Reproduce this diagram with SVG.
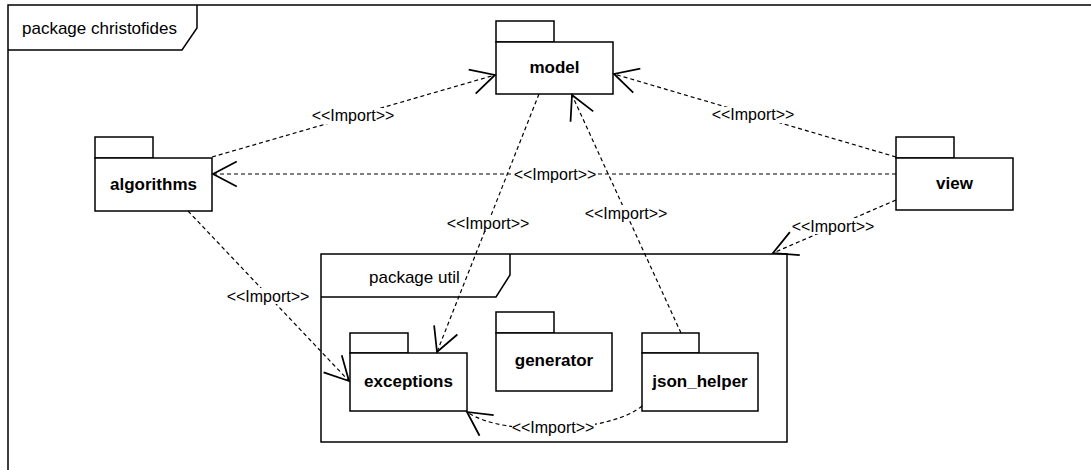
<svg xmlns="http://www.w3.org/2000/svg" width="1091" height="470" viewBox="0 0 1091 470">
  <style>
    .frame { fill: none; stroke: #000; stroke-width: 1.5; }
    .pkg { fill: #fff; stroke: #000; stroke-width: 1.5; }
    .title { font-family: "Liberation Sans", Arial, sans-serif; font-size: 17px; fill: #000; }
    .name { font-family: "Liberation Sans", Arial, sans-serif; font-size: 17px; font-weight: bold; fill: #000; text-anchor: middle; }
    .dep { fill: none; stroke: #000; stroke-width: 1.2; stroke-dasharray: 4 3; marker-end: url(#open); }
    .lbl { font-family: "Liberation Sans", Arial, sans-serif; font-size: 16px; fill: #000; text-anchor: middle; }
    .lblbg { fill: #fff; }
  </style>
  <defs>
    <marker id="open" markerUnits="userSpaceOnUse" markerWidth="30" markerHeight="30" refX="0" refY="0" viewBox="-22 -12 24 24" orient="auto" overflow="visible">
      <path d="M-19,-10 L0,0 L-19,10" fill="none" stroke="#000" stroke-width="1.4"/>
    </marker>
  </defs>

  <rect width="1091" height="470" fill="#fff"/>

  <!-- outer package frame -->
  <g id="christofides">
    <rect class="frame" x="8" y="5" width="1100" height="500"/>
    <path class="frame" d="M8,50 L182,50 L197,28 L197,5"/>
    <text class="title" x="22" y="34">package christofides</text>
  </g>

  <!-- util package frame -->
  <g id="util">
    <rect class="pkg" x="321" y="254" width="466" height="188"/>
    <path class="frame" d="M321,297 L496,297 L510,275 L510,254"/>
    <text class="title" x="369" y="283">package util</text>
  </g>

  <g id="model">
    <rect class="pkg" x="496" y="21" width="58" height="21"/>
    <rect class="pkg" x="496" y="42" width="117" height="52"/>
    <text class="name" x="554.5" y="73">model</text>
  </g>

  <g id="algorithms">
    <rect class="pkg" x="95" y="137" width="58" height="21"/>
    <rect class="pkg" x="95" y="158" width="117" height="53"/>
    <text class="name" x="153.5" y="190">algorithms</text>
  </g>

  <g id="view">
    <rect class="pkg" x="896" y="137" width="58" height="21"/>
    <rect class="pkg" x="896" y="158" width="117" height="52"/>
    <text class="name" x="954.5" y="189">view</text>
  </g>

  <g id="exceptions">
    <rect class="pkg" x="350" y="333" width="58" height="20"/>
    <rect class="pkg" x="350" y="353" width="117" height="58"/>
    <text class="name" x="408.5" y="387">exceptions</text>
  </g>

  <g id="generator">
    <rect class="pkg" x="496" y="312" width="58" height="21"/>
    <rect class="pkg" x="496" y="333" width="116" height="58"/>
    <text class="name" x="554" y="366">generator</text>
  </g>

  <g id="json_helper">
    <rect class="pkg" x="642" y="333" width="57" height="20"/>
    <rect class="pkg" x="642" y="353" width="116" height="58"/>
    <text class="name" x="700" y="387">json_helper</text>
  </g>

  <!-- import dependencies -->
  <g id="connectors">
    <path class="dep" d="M212,157 L495,75"/>
    <path class="dep" d="M896,157 L614,74"/>
    <path class="dep" d="M896,174 L213,174"/>
    <path class="dep" d="M539,94 L437,352"/>
    <path class="dep" d="M681,333 L572,95"/>
    <path class="dep" d="M188,211 L349,381"/>
    <path class="dep" d="M896,200 L773,253"/>
    <path class="dep" d="M642,406 C612,432 505,438 467,412"/>

    <g id="labels">
      <rect class="lblbg" x="312" y="108" width="83" height="16"/>
      <text class="lbl" x="353" y="121">&lt;&lt;Import&gt;&gt;</text>
      <rect class="lblbg" x="712" y="107" width="83" height="16"/>
      <text class="lbl" x="753" y="120">&lt;&lt;Import&gt;&gt;</text>
      <rect class="lblbg" x="514" y="166" width="83" height="16"/>
      <text class="lbl" x="555" y="179.5">&lt;&lt;Import&gt;&gt;</text>
      <rect class="lblbg" x="447" y="215" width="83" height="16"/>
      <text class="lbl" x="488" y="228.5">&lt;&lt;Import&gt;&gt;</text>
      <rect class="lblbg" x="585" y="205" width="83" height="16"/>
      <text class="lbl" x="626" y="218.5">&lt;&lt;Import&gt;&gt;</text>
      <rect class="lblbg" x="227" y="288" width="83" height="16"/>
      <text class="lbl" x="268" y="301.5">&lt;&lt;Import&gt;&gt;</text>
      <rect class="lblbg" x="792" y="218" width="83" height="16"/>
      <text class="lbl" x="833" y="231.5">&lt;&lt;Import&gt;&gt;</text>
      <rect class="lblbg" x="512" y="419" width="83" height="16"/>
      <text class="lbl" x="553" y="432.5">&lt;&lt;Import&gt;&gt;</text>
    </g>
  </g>
</svg>
